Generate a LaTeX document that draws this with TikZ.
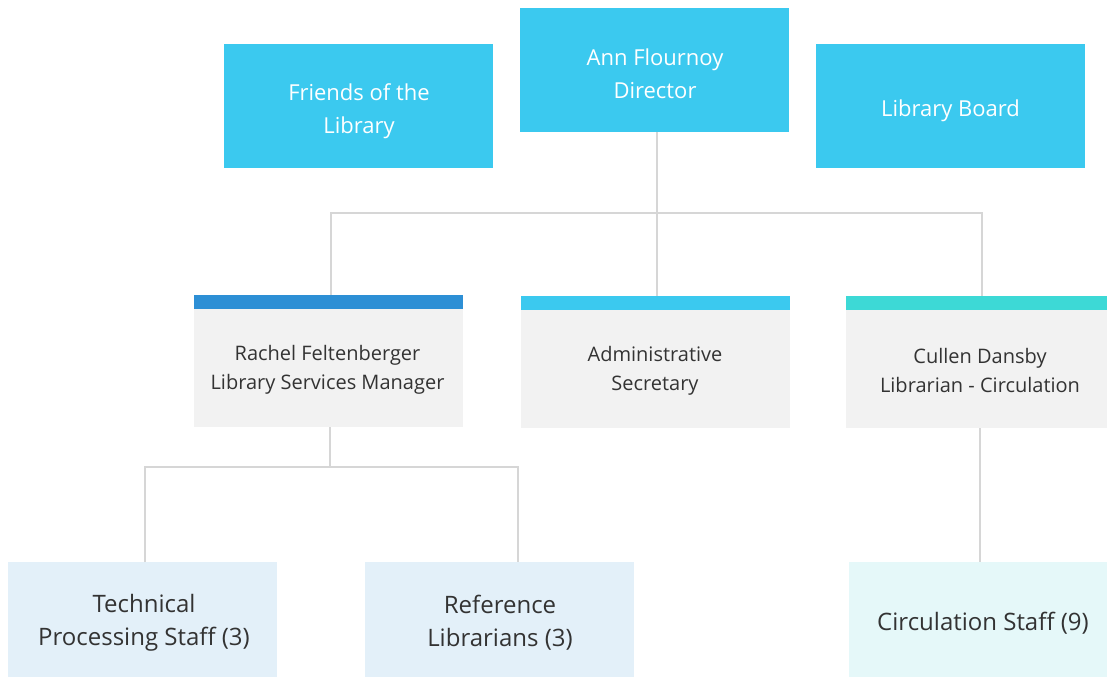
\documentclass[tikz,border=0pt]{standalone}
\usepackage{fontspec}
\setmainfont{Open Sans}
\definecolor{topcyan}{HTML}{3BC9EF}
\definecolor{barblue}{HTML}{2D8FD5}
\definecolor{barteal}{HTML}{3DD9D6}
\definecolor{boxgray}{HTML}{F2F2F2}
\definecolor{paleblue}{HTML}{E3F0F9}
\definecolor{paleteal}{HTML}{E5F8F9}
\definecolor{linegray}{HTML}{D6D6D6}
\definecolor{inkgray}{HTML}{333333}
\begin{document}
\begin{tikzpicture}[x=1pt,y=-1pt,
  topbox/.style={fill=topcyan,text=white,font=\fontsize{22}{33}\selectfont,align=center},
  midbox/.style={fill=boxgray,text=inkgray,font=\fontsize{20}{29}\selectfont,align=center},
  lowbox/.style={text=inkgray,font=\fontsize{24}{33}\selectfont,align=center},
  link/.style={draw=linegray,line width=2.5pt}]
\useasboundingbox (0,0) rectangle (1107,677);

% top row
\fill[topcyan] (224,44) rectangle (493,168);
\node[topbox] (friends) at (359,111) {Friends of the\\Library};
\fill[topcyan] (520,8) rectangle (789,132);
\node[topbox] (director) at (655,74) {Ann Flournoy\\Director};
\coordinate (dirbot) at (657,132);
\fill[topcyan] (816,44) rectangle (1085,168);
\node[topbox] (board) at (950.5,111) {Library Board};

% middle row
\fill[boxgray] (194,309) rectangle (463,427);
\fill[barblue] (194,295) rectangle (463,309);
\node[midbox] (rachel) at (327.5,370) {Rachel Feltenberger\\Library Services Manager};
\fill[boxgray] (521,310) rectangle (790,428);
\fill[topcyan] (521,296) rectangle (790,310);
\node[midbox] (admin) at (655,371) {Administrative\\Secretary};
\fill[boxgray] (846,310) rectangle (1107,428);
\fill[barteal] (846,296) rectangle (1107,310);
\node[midbox] (cullen) at (980,370) {Cullen Dansby\\Librarian - Circulation};

% bottom row
\fill[paleblue] (8,562) rectangle (277,677);
\node[lowbox] (tech) at (144,623) {Technical\\Processing Staff (3)};
\fill[paleblue] (365,562) rectangle (634,677);
\node[lowbox] (ref) at (500,623) {Reference\\Librarians (3)};
\fill[paleteal] (849,562) rectangle (1107,677);
\node[lowbox] (circ) at (983,623) {Circulation Staff (9)};

% connector anchors
\coordinate (rachtop) at (331,295);
\coordinate (admintop) at (657,296);
\coordinate (cullentop) at (982,296);
\coordinate (rachbot) at (330,427);
\coordinate (techtop) at (145,562);
\coordinate (reftop) at (518,562);
\coordinate (cullenbot) at (980,428);
\coordinate (circtop) at (980,562);

% connectors
\draw[link] (dirbot) -- (admintop);
\draw[link] (rachtop) |- (657,213) -| (cullentop);
\draw[link] (techtop) |- (330,467) -| (reftop);
\draw[link] (rachbot) -- (330,467);
\draw[link] (cullenbot) -- (circtop);
\end{tikzpicture}
\end{document}
